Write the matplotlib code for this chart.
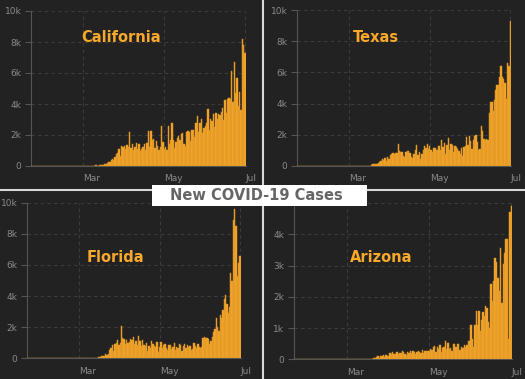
'''New COVID-19 Cases: four states, daily bars on a dark background
'''
import pandas as pd
import matplotlib
matplotlib.use('Agg')
import matplotlib.pyplot as plt
import matplotlib.transforms as mtransforms
from matplotlib.patches import Rectangle
from matplotlib.lines import Line2D

plt.rcParams['font.family'] = ['DejaVu Sans']

# daily new cases, 2020-01-22 .. 2020-07-01
dates = pd.date_range('2020-01-22', '2020-07-01', freq='D')

zeros_jan_feb = [0] * 39

california = zeros_jan_feb + [
    # Mar
    3, 2, 4, 8, 20, 12, 20, 22, 19, 44, 46, 20, 65, 60, 58, 85, 122, 135, 200, 240,
    250, 355, 460, 370, 590, 770, 820, 1100, 640, 1320, 1200,
    # Apr
    1300, 1100, 1350, 1250, 2200, 1150, 1400, 1050, 1250, 1500, 1100, 1450, 950, 1100, 1250,
    1400, 1050, 1500, 2250, 1250, 2250, 1700, 1750, 1150, 1600, 1300, 1050, 1200, 2600, 1550,
    # May
    1100, 1200, 1050, 2550, 1400, 1650, 2750, 1700, 1150, 1550, 1800, 1950, 1650, 2050, 2100,
    1450, 1300, 2200, 2250, 2200, 1600, 2300, 2350, 1900, 2800, 3250, 2200, 2750, 3050, 2100, 2450,
    # Jun
    2600, 2750, 3650, 2300, 3000, 2900, 3350, 2500, 3400, 3000, 3350, 3300, 3500, 3750, 2950,
    4250, 3450, 4350, 4400, 4300, 6150, 4100, 6700, 4700, 5700, 3900, 4800, 3600, 8200, 7800,
    # Jul
    7300,
]

texas = zeros_jan_feb + [
    0, 0, 0, 1, 3, 3, 2, 3, 4, 5, 10, 14, 8, 18, 15, 25, 20, 60, 120, 130,
    100, 160, 200, 270, 330, 430, 410, 520, 350, 600, 480,
    720, 780, 820, 760, 850, 860, 1440, 940, 920, 900, 650, 580, 900, 980, 960,
    830, 560, 520, 790, 1050, 1320, 700, 900, 480, 800, 1010, 1250, 1170, 1380, 1120,
    1300, 1030, 900, 1150, 1170, 1000, 1050, 1250, 1050, 1640, 1230, 1480, 780, 1350, 1780,
    1000, 1400, 1360, 900, 1300, 1200, 1100, 950, 800, 1160, 650, 1200, 1300, 1850, 1320, 1930,
    1600, 1100, 1650, 1900, 2000, 1550, 1000, 1100, 2550, 2250, 1700, 1650, 1700, 1650, 3400,
    4100, 4100, 3500, 4200, 4900, 5200, 5200, 5700, 6400, 5700, 5600, 5300, 4300, 6600, 6400,
    9300,
]

florida = zeros_jan_feb + [
    2, 0, 0, 1, 2, 5, 4, 3, 3, 3, 4, 5, 6, 10, 20, 60, 90, 120, 130, 150,
    250, 200, 280, 550, 650, 850, 500, 900, 1000, 1200, 850,
    1000, 2100, 1300, 1250, 900, 1200, 1000, 1050, 1250, 1150, 1400, 900, 1100, 850, 1450,
    1100, 800, 1200, 850, 800, 1000, 450, 800, 650, 1100, 900, 800, 700, 1050, 400,
    700, 1050, 650, 850, 900, 650, 550, 850, 850, 600, 700, 1000, 550, 750, 650,
    900, 850, 450, 800, 900, 650, 850, 750, 800, 550, 600, 1000, 800, 650, 900, 750,
    650, 700, 1300, 1400, 1300, 1300, 1250, 950, 1100, 1350, 1700, 1900, 2600, 2000, 1750,
    2800, 2600, 3100, 3800, 4050, 3500, 2900, 3300, 5500, 5000, 8900, 9600, 8500, 5300, 6100,
    6600,
]

arizona = zeros_jan_feb + [
    0, 0, 0, 0, 0, 0, 0, 0, 0, 0, 0, 0, 0, 0, 3, 5, 8, 10, 20, 25,
    40, 50, 75, 90, 50, 100, 120, 130, 70, 150, 100,
    120, 200, 170, 240, 180, 160, 230, 180, 210, 200, 280, 230, 160, 140, 240,
    200, 250, 190, 260, 220, 180, 240, 280, 240, 200, 300, 210, 270, 250, 280,
    260, 320, 300, 400, 430, 230, 400, 330, 450, 240, 350, 400, 570, 330, 520,
    340, 350, 280, 480, 500, 380, 480, 500, 300, 400, 350, 450, 380, 470, 580, 570,
    1100, 650, 400, 1100, 1550, 1100, 1550, 900, 1250, 1500, 1400, 1700, 1650, 1200, 1000,
    2400, 1850, 2500, 3250, 3100, 2600, 2200, 3550, 1800, 3050, 3400, 3850, 3850, 650, 4700,
    4900,
]

tick_dates = ['2020-03-01', '2020-05-01', '2020-07-01']
tick_names = ['Mar', 'May', 'Jul']

BG = '#222222'
BAR = '#f9a82a'
BAR_EDGE = '#d99526'
GRID = '#3c3c3c'
TEXT = '#8a8a8a'

W, H = 525, 379


def px_axes(fig, left, right, top, bottom):
    # pixel box (from the top-left corner) -> figure axes
    return fig.add_axes([left / W, 1 - bottom / H, (right - left) / W, (bottom - top) / H])


def draw_state(ax, name, values, ymax, ystep, name_xy):
    ax.set_facecolor(BG)
    ax.bar(dates, values, width=1.0, color=BAR, edgecolor=BAR_EDGE, linewidth=0.35, zorder=3)
    ax.set_xlim(pd.Timestamp('2020-01-21 12:00'), pd.Timestamp('2020-07-01 12:00'))
    ax.set_ylim(0, ymax)

    yt = list(range(0, ymax + 1, ystep))
    ax.set_yticks(yt)
    ax.set_yticklabels(['0' if v == 0 else '%dk' % (v // 1000) for v in yt])
    ax.set_xticks([pd.Timestamp(d) for d in tick_dates])
    ax.set_xticklabels(tick_names, ha='left')
    offset = mtransforms.ScaledTranslation(3 / 100, 0, ax.figure.dpi_scale_trans)
    for lbl in ax.get_xticklabels():
        lbl.set_transform(lbl.get_transform() + offset)

    ax.tick_params(axis='y', colors='#555555', labelcolor=TEXT, labelsize=6.5, length=4, width=0.8, pad=3)
    ax.tick_params(axis='x', colors='#555555', labelcolor=TEXT, labelsize=6.5, length=0, pad=6)

    for v in yt[1:]:
        ax.axhline(v, color=GRID, linestyle=(0, (3, 3)), linewidth=0.8, zorder=1)
    for d in tick_dates:
        ax.axvline(pd.Timestamp(d), color=GRID, linestyle=(0, (3, 3)), linewidth=0.8, zorder=1)

    for side in ['top', 'right']:
        ax.spines[side].set_visible(False)
    for side in ['left', 'bottom']:
        ax.spines[side].set_color('#555555')
        ax.spines[side].set_linewidth(0.8)
        ax.spines[side].set_zorder(2)

    ax.text(name_xy[0], name_xy[1], name, transform=ax.transAxes, color=BAR,
            fontsize=10.5, fontweight='bold', ha='center', va='center', zorder=4)


fig = plt.figure(figsize=(5.25, 3.79), dpi=100)
fig.patch.set_facecolor(BG)

ax1 = px_axes(fig, 31, 245.7, 11, 166)
ax2 = px_axes(fig, 297.2, 511, 10, 166)
ax3 = px_axes(fig, 27.3, 240.7, 202.7, 358.3)
ax4 = px_axes(fig, 293.8, 512, 203, 359.3)


def name_pos(ax, x, y):
    # pixel position of a label -> axes fraction
    bb = ax.get_position()
    return ((x / W - bb.x0) / bb.width, ((1 - y / H) - bb.y0) / bb.height)


draw_state(ax1, 'California', california, 10000, 2000, name_pos(ax1, 121.5, 37))
draw_state(ax2, 'Texas', texas, 10000, 2000, name_pos(ax2, 375.5, 37))
draw_state(ax3, 'Florida', florida, 10000, 2000, name_pos(ax3, 115.5, 257))
draw_state(ax4, 'Arizona', arizona, 5000, 1000, name_pos(ax4, 381, 258))

# panel dividers
fig.add_artist(Line2D([263 / W, 263 / W], [0, 1], color='#d8d8d8', linewidth=1.5))
fig.add_artist(Line2D([0, 1], [1 - 190 / H, 1 - 190 / H], color='#d8d8d8', linewidth=1.5))

# title box
fig.add_artist(Rectangle((152 / W, 1 - 206 / H), (367 - 152) / W, 21 / H,
                         transform=fig.transFigure, facecolor='white', edgecolor='none', zorder=5))
fig.text(256 / W, 1 - 195.5 / H, 'New COVID-19 Cases', color='#666666', fontsize=10.5,
         fontweight='bold', ha='center', va='center', zorder=6)

fig.savefig('out.png', dpi=100, facecolor=fig.get_facecolor())
